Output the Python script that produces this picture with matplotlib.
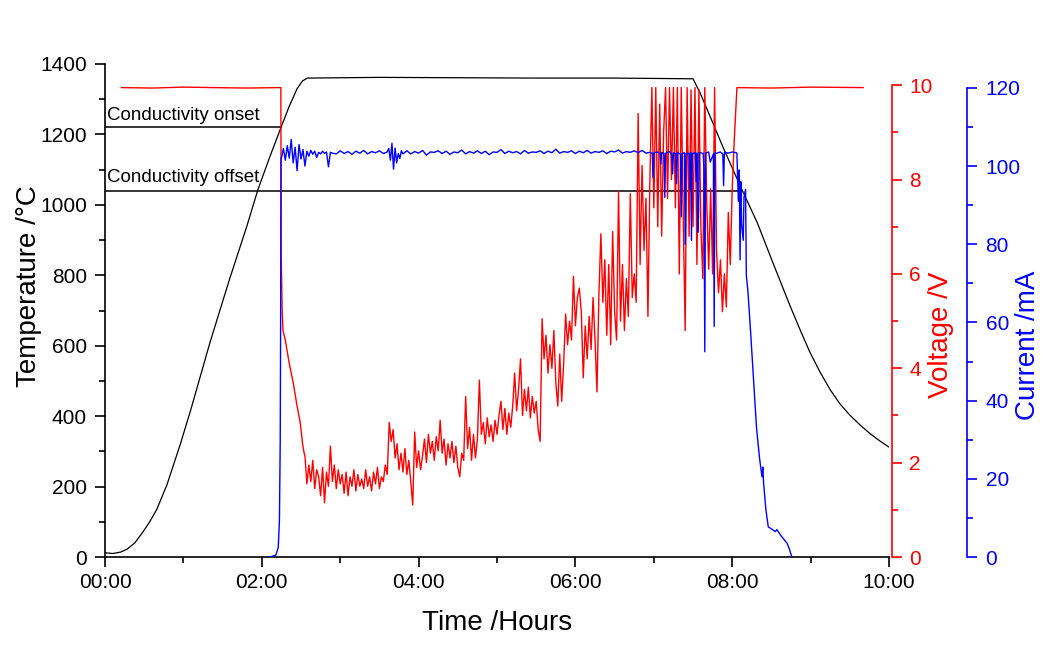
import numpy as np
import matplotlib
matplotlib.use("Agg")
import matplotlib.pyplot as plt
from matplotlib.ticker import MultipleLocator

plt.rcParams['font.family'] = ['Liberation Sans', 'DejaVu Sans']

# Temperature (left axis, black) - time in hours
temp_t = [0.00, 0.10, 0.20, 0.28, 0.38, 0.48, 0.57, 0.66, 0.79, 0.96, 1.09, 1.34,
          1.59, 1.81, 1.95, 2.10, 2.245, 2.35, 2.45, 2.52, 2.58, 3.5, 4.5, 5.5,
          6.5, 7.50, 7.59, 7.72, 7.88, 8.12, 8.32, 8.52, 8.74, 8.87, 8.99, 9.12,
          9.25, 9.37, 9.50, 9.63, 9.76, 9.88, 10.0]
temp_c = [12, 10, 14, 22, 40, 70, 100, 135, 205, 320, 415, 610,
          790, 940, 1043, 1135, 1220, 1280, 1330, 1352, 1360, 1362, 1361, 1360,
          1360, 1358, 1318, 1250, 1165, 1045, 949, 835, 712, 643, 582, 525,
          475, 436, 403, 375, 350, 330, 312]

# Conductivity markers
onset_temp, onset_end = 1220, 2.245
offset_temp, offset_end = 1040, 8.12

# Voltage (red)
volt_head_t = [0.21, 0.6, 1.0, 1.4, 1.8, 2.2, 2.243, 2.247, 2.26, 2.27, 2.30,
               2.35, 2.40, 2.45, 2.49, 2.52, 2.54]
volt_head_v = [9.95, 9.94, 9.96, 9.95, 9.94, 9.95, 9.95, 6.4, 5.2, 4.8, 4.6,
               4.1, 3.7, 3.2, 2.85, 2.4, 2.2]
volt_noise_start, volt_noise_step = 2.55, 0.025
volt_noise_v = [
    2.15, 1.55, 1.95, 1.6, 2.05, 1.45, 1.85, 1.7, 1.3, 1.9,
    1.15, 1.8, 1.5, 2.35, 1.6, 1.95, 1.45, 1.85, 1.55, 1.75,
    1.35, 1.8, 1.3, 1.7, 1.5, 1.85, 1.4, 1.75, 1.5, 1.65,
    1.45, 1.85, 1.5, 1.7, 1.4, 1.8, 1.55, 1.9, 1.45, 1.7,
    1.6, 1.95, 1.75, 2.85, 2.45, 2.7, 2.1, 2.4, 1.85, 2.2,
    1.8, 2.3, 1.75, 2.05, 1.6, 1.1, 2.65, 1.9, 2.25, 1.85,
    2.15, 2.5, 2.0, 2.6, 2.2, 2.45, 2.05, 2.55, 2.25, 2.9,
    2.2, 2.5, 1.95, 2.4, 2.1, 2.45, 2.0, 2.35, 1.9, 1.7,
    2.2, 2.05, 3.4, 2.3, 2.75, 2.05, 2.6, 2.1, 2.5, 3.75,
    2.6, 2.85, 2.4, 2.95, 2.55, 2.8, 2.45, 2.9, 2.6, 3.0,
    3.3, 2.7, 3.15, 2.6, 3.05, 2.75, 3.2, 3.9, 3.1, 3.55,
    4.2, 3.0, 3.55, 3.1, 3.6, 2.95, 3.4, 3.05, 3.3, 2.7,
    2.45, 5.05, 4.2, 4.7, 3.9, 4.5, 4.0, 4.8, 3.7, 3.2,
    4.3, 3.3, 4.1, 5.15, 4.5, 5.0, 4.6, 5.95, 4.9, 5.5,
    5.7, 5.2, 3.8, 4.9, 4.2, 5.1, 4.4, 5.5, 4.6, 3.5,
    5.6, 6.85, 5.4, 6.3, 4.7, 6.2, 4.5, 6.9, 5.2, 4.6,
    7.75, 5.0, 6.2, 4.8, 5.9, 5.1, 7.7, 5.5, 6.0, 5.4,
    9.4, 6.2, 8.3, 6.5, 7.6, 5.1, 8.0, 9.95, 7.4, 9.95,
    7.0, 9.6, 6.8, 9.0, 9.95, 7.6, 9.95, 8.0, 9.95, 7.4,
    9.95, 6.0, 9.95, 7.2, 4.8, 9.95, 6.8, 9.9, 7.0, 9.95,
    6.2, 9.9, 7.0, 5.9, 9.95, 7.5, 6.1, 7.8, 6.0, 9.95,
    6.5, 5.6, 6.3, 5.2, 6.0, 5.3, 7.3, 6.2, 7.8, 8.8,
]
volt_tail_t = [8.06, 8.5, 9.0, 9.67]
volt_tail_v = [9.95, 9.94, 9.96, 9.95]

# Current (blue)
cur_head_t = [2.10, 2.18, 2.21, 2.225, 2.235, 2.24, 2.245]
cur_head_v = [0, 0.5, 2.5, 9.5, 30, 60, 102]
cur_early_start, cur_early_step = 2.25, 0.025
cur_early_v = [102.0, 104.5, 101.5, 105.2, 102.0, 106.8, 100.8, 104.8, 98.8, 105.5,
               101.8, 104.2, 100.0, 103.8, 102.5, 104.0, 103.0, 103.8, 102.2, 103.5,
               103.1, 103.8, 103.2, 103.6, 99.8, 103.5, 103.3]
cur_flat1_start, cur_flat1_step = 2.95, 0.05
cur_flat1_v = [103.1, 103.9, 103.2, 103.7, 103.0, 103.8, 103.3, 104.0, 103.1, 103.7,
               103.4, 103.9, 103.2, 103.6]
cur_spike_start, cur_spike_step = 3.62, 0.02
cur_spike_v = [104.5, 101.5, 105.8, 99.2, 104.6, 100.8, 103.2, 101.9, 103.9, 103.1]
cur_flat2_start, cur_flat2_step = 3.85, 0.05
cur_flat2_v = [103.9, 103.1, 103.7, 103.3, 104.0, 102.8, 103.6, 103.5, 103.9,
               103.2, 103.8, 103.0, 103.6, 103.4, 104.1, 103.1, 103.7, 103.3, 103.9,
               103.2, 103.8, 102.9, 103.6, 103.5, 104.2, 103.2, 103.8, 103.4, 103.7,
               103.1, 104.0, 103.3, 103.6, 103.5, 103.9, 103.2, 103.8, 103.4, 104.3,
               103.3, 103.7, 103.5, 103.9, 103.2, 103.8, 103.4, 104.0, 103.3, 103.7,
               103.5, 103.9, 103.2, 103.8, 103.6, 104.1, 103.3, 103.7, 103.5, 103.9,
               103.4, 104.0, 103.3]
cur_late_t = [6.95, 6.98, 6.99, 7.00, 7.05, 7.08, 7.09, 7.10, 7.13, 7.14, 7.15, 7.20,
              7.23, 7.24, 7.25, 7.28, 7.29, 7.30, 7.34, 7.35, 7.36, 7.39, 7.40, 7.41,
              7.45, 7.46, 7.47, 7.48, 7.49, 7.53, 7.54, 7.55, 7.56, 7.57, 7.58, 7.63,
              7.64, 7.65, 7.66, 7.70, 7.72, 7.76, 7.77, 7.78, 7.79, 7.85, 7.88, 7.89,
              7.90, 7.95, 8.00, 8.05, 8.06, 8.07, 8.08, 8.09, 8.10, 8.11, 8.12, 8.14,
              8.15, 8.17, 8.18, 8.20, 8.23, 8.27, 8.31, 8.35, 8.38, 8.39, 8.40, 8.43,
              8.46, 8.50, 8.55, 8.57, 8.62, 8.66, 8.70, 8.73, 8.76]
cur_late_v = [103.5, 103.2, 97, 103.4, 103.6, 103.1, 100.5, 103.5, 103.2, 92, 103.3, 103.7,
              103.0, 98, 103.4, 103.1, 95.5, 103.5, 103.0, 87, 103.2, 103.4, 80, 103.1,
              103.3, 94, 103.5, 81, 103.2, 103.4, 96, 103.3, 83, 87, 103.5, 103.2,
              99, 52.5, 103.3, 103.6, 101, 103.1, 59, 103.4, 103.2, 103.6, 103.0, 95,
              103.5, 103.3, 103.6, 103.4, 103.3, 96, 91, 99, 76, 96, 85, 81,
              92, 94, 72, 68, 59, 46, 33, 25, 20.5, 23, 19, 12,
              7.7, 7.2, 6.5, 7, 5.5, 4.5, 3.5, 2, 0]

x_ticks = [0, 2, 4, 6, 8, 10]
x_tick_labels = ["00:00", "02:00", "04:00", "06:00", "08:00", "10:00"]


def grid(start, step, values):
    return start + step * np.arange(len(values))


volt_t = np.concatenate([volt_head_t, grid(volt_noise_start, volt_noise_step, volt_noise_v), volt_tail_t])
volt_v = np.concatenate([volt_head_v, volt_noise_v, volt_tail_v])

cur_t = np.concatenate([cur_head_t,
                        grid(cur_early_start, cur_early_step, cur_early_v),
                        grid(cur_flat1_start, cur_flat1_step, cur_flat1_v),
                        grid(cur_spike_start, cur_spike_step, cur_spike_v),
                        grid(cur_flat2_start, cur_flat2_step, cur_flat2_v),
                        cur_late_t])
cur_v = np.concatenate([cur_head_v, cur_early_v, cur_flat1_v, cur_spike_v, cur_flat2_v, cur_late_v])

RED = '#ff0000'
BLUE = '#0000ff'

fig = plt.figure(figsize=(10.49, 6.53), dpi=100)
ax = fig.add_axes([0.1001, 0.147, 0.7474, 0.755])
ax_v = ax.twinx()
ax_i = ax.twinx()

# temperature + conductivity markers
ax.plot(temp_t, temp_c, color='black', lw=0.9)
ax.plot([0, onset_end], [onset_temp, onset_temp], color='black', lw=1.1)
ax.plot([0, offset_end], [offset_temp, offset_temp], color='black', lw=1.1)
ax.text(0.03, 1240, "Conductivity onset", fontsize=13.5, va='baseline')
ax.text(0.03, 1066, "Conductivity offset", fontsize=13.5, va='baseline')

ax_v.plot(volt_t, volt_v, color=RED, lw=1.0)
ax_i.plot(cur_t, cur_v, color=BLUE, lw=1.0)

ax.set_xlim(0, 10)
ax.set_ylim(0, 1400)
ax_v.set_ylim(0, 10.45)
ax_i.set_ylim(0, 126.1)

for s in ['top', 'right']:
    ax.spines[s].set_visible(False)
for a in (ax_v, ax_i):
    for s in ['top', 'left', 'bottom']:
        a.spines[s].set_visible(False)
ax_v.spines['right'].set_position(('outward', 2.2))
ax_i.spines['right'].set_position(('outward', 56))
ax_v.spines['right'].set_bounds(0, 10)
ax_i.spines['right'].set_bounds(0, 120)
ax_v.spines['right'].set_color(RED)
ax_i.spines['right'].set_color(BLUE)
for sp in list(ax.spines.values()) + [ax_v.spines['right'], ax_i.spines['right']]:
    sp.set_linewidth(1.2)

ax.set_xticks(x_ticks, x_tick_labels)
ax.xaxis.set_minor_locator(MultipleLocator(1))
ax.yaxis.set_major_locator(MultipleLocator(200))
ax.yaxis.set_minor_locator(MultipleLocator(100))
ax_v.yaxis.set_major_locator(MultipleLocator(2))
ax_v.yaxis.set_minor_locator(MultipleLocator(1))
ax_i.yaxis.set_major_locator(MultipleLocator(20))
ax_i.yaxis.set_minor_locator(MultipleLocator(10))

ax.tick_params(axis='both', which='major', direction='out', length=7.5, width=1.2, labelsize=15, pad=4)
ax.tick_params(axis='both', which='minor', direction='out', length=4.5, width=1.2)
ax.tick_params(axis='y', which='major', pad=5.5)
ax_v.tick_params(which='major', direction='out', length=7.5, width=1.2, labelsize=15, pad=5,
                 colors=RED)
ax_v.tick_params(which='minor', direction='out', length=4.5, width=1.2, colors=RED)
ax_i.tick_params(which='major', direction='out', length=7.5, width=1.2, labelsize=15, pad=6,
                 colors=BLUE)
ax_i.tick_params(which='minor', direction='out', length=4.5, width=1.2, colors=BLUE)

ax.set_xlabel("Time /Hours", fontsize=20)
ax.xaxis.set_label_coords(0.5, -0.1075)
ax.set_ylabel("Temperature /°C", fontsize=20)
ax.yaxis.set_label_coords(-0.080, 0.55)
ax_v.set_ylabel("Voltage /V", fontsize=20, color=RED)
ax_v.yaxis.set_label_coords(1.0497, 0.45)
ax_i.set_ylabel("Current /mA", fontsize=20, color=BLUE)
ax_i.yaxis.set_label_coords(1.1607, 0.43)

fig.savefig("out.png", dpi=100)
